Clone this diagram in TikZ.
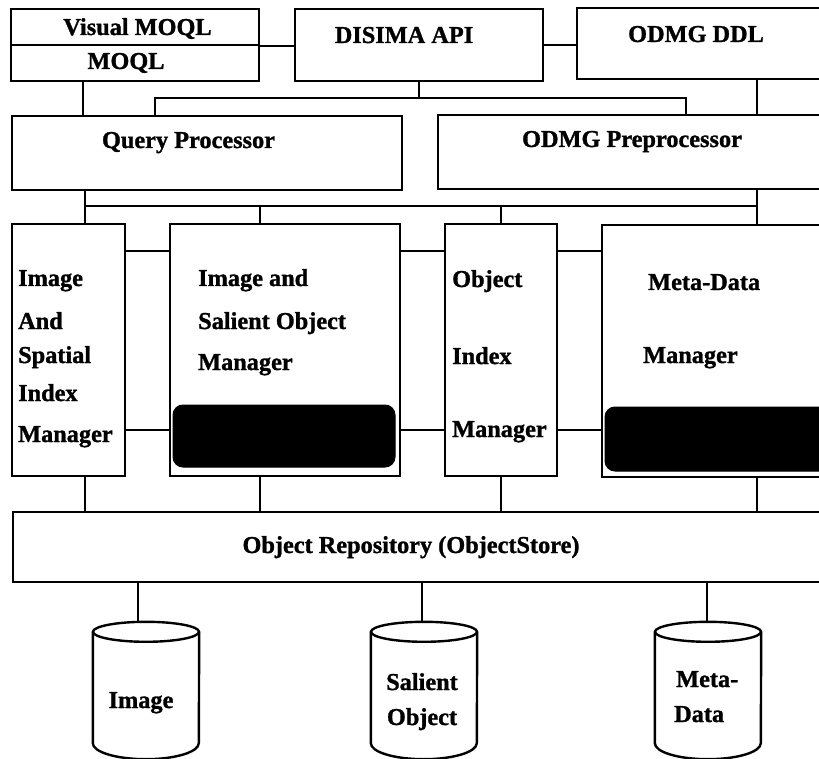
\documentclass[tikz,border=0pt]{standalone}
\usepackage{fontspec}
\setmainfont{Liberation Serif}[BoldFeatures={FakeBold=1.2}]
\usetikzlibrary{fit}
\begin{document}
\begin{tikzpicture}[x=1pt,y=-1pt,
  blk/.style={draw, line width=2.4pt, inner sep=0pt},
  darkpad/.style={fill=black, draw=black, line width=1pt, rounded corners=10pt, inner sep=0pt},
  cylspace/.style={inner sep=0pt},
  cyl/.style={line width=2.4pt},
  wire/.style={line width=2pt},
  lbl/.style={font=\fontsize{24.3}{29}\selectfont\bfseries, inner sep=0pt, anchor=base},
  lbll/.style={lbl, anchor=base west},
]
\useasboundingbox (0,0) rectangle (819,759);

% ---- top row: languages and interfaces
\node[blk, fit={(11,9) (259,45)}] (vmoql) {};
\node[blk, fit={(11,45) (259,81)}] (moql) {};
\node[blk, fit={(295,9) (543,81)}] (api) {};
\node[blk, fit={(577,8) (830,79)}] (ddl) {};

% ---- processors
\node[blk, fit={(12,116) (402,190)}] (qp) {};
\node[blk, fit={(438,115) (830,189)}] (pre) {};

% ---- managers
\node[blk, fit={(12,224) (125,476)}] (isim) {};
\node[blk, fit={(170,224) (400,476)}] (isom) {};
\node[blk, fit={(445,224) (557,476)}] (oim) {};
\node[blk, fit={(602,225) (830,477)}] (mdm) {};
\node[darkpad, fit={(173,405) (395,467)}] (isompad) {};
\node[darkpad, fit={(605,407) (845,471)}] (mdmpad) {};

% ---- repository and databases
\node[blk, fit={(13,512) (830,582)}] (repo) {};
\node[cylspace, fit={(93,622) (199,759)}] (cimg) {};
\node[cylspace, fit={(371,622) (477,759)}] (csal) {};
\node[cylspace, fit={(655,622) (761,759)}] (cmeta) {};
\foreach \c in {cimg,csal,cmeta}{
  \draw[cyl] ([yshift=-10pt]\c.north west) -- ([yshift=16pt]\c.south west)
    arc[start angle=180, end angle=360, x radius=53pt, y radius=16pt]
    -- ([yshift=-10pt]\c.north east);
  \draw[cyl] ([yshift=-10pt]\c.north) ellipse[x radius=53pt, y radius=10pt];
}

% ---- routing points
\coordinate (colA) at (83,0);
\coordinate (brL) at (155,98);
\coordinate (brR) at (686,98);
\coordinate (colD) at (757,0);
\coordinate (busL) at (85,206);
\coordinate (busR) at (757,206);
\coordinate (col2) at (260,0);
\coordinate (col3) at (501,0);
\coordinate (rowA) at (0,251);
\coordinate (rowB) at (0,430);
\coordinate (dbA) at (138,0);
\coordinate (dbB) at (422,0);
\coordinate (dbC) at (707,0);

% ---- connectors
\draw[wire] (vmoql.south east) -- (vmoql.south east -| api.west);
\draw[wire] (api.east) -- (api.east -| ddl.west);
\draw[wire] (moql.south -| colA) -- (qp.north -| colA);
\draw[wire] (api.south) -- (api.south |- brL);
\draw[wire] (qp.north -| brL) -- (brL) -- (brR) -- (pre.north -| brR);
\draw[wire] (ddl.south -| colD) -- (pre.north -| colD);
\draw[wire] (qp.south -| busL) -- (busL) -- (busR) -- (pre.south -| busR);
\draw[wire] (busL) -- (isim.north -| busL);
\draw[wire] (busL -| col2) -- (isom.north -| col2);
\draw[wire] (busL -| col3) -- (oim.north -| col3);
\draw[wire] (busR) -- (mdm.north -| busR);
\foreach \r in {rowA,rowB}{
  \draw[wire] (isim.east |- \r) -- (isom.west |- \r);
  \draw[wire] (isom.east |- \r) -- (oim.west |- \r);
  \draw[wire] (oim.east |- \r) -- (mdm.west |- \r);
}
\draw[wire] (isim.south -| busL) -- (repo.north -| busL);
\draw[wire] (isom.south -| col2) -- (repo.north -| col2);
\draw[wire] (oim.south -| col3) -- (repo.north -| col3);
\draw[wire] (mdm.south -| busR) -- (repo.north -| busR);
\draw[wire] (repo.south -| dbA) -- (cimg.north -| dbA);
\draw[wire] (repo.south -| dbB) -- (csal.north -| dbB);
\draw[wire] (repo.south -| dbC) -- (cmeta.north -| dbC);

% ---- labels
\node[lbl] (tvm) at (137.5,35) {Visual MOQL};
\node[lbl] (tmq) at (126,69) {MOQL};
\node[lbl] (tapi) at (404,43) {DISIMA API};
\node[lbl] (tddl) at (696,42) {ODMG DDL};
\node[lbl] (tqp) at (188.5,148) {Query Processor};
\node[lbl] (tpre) at (632,147) {ODMG Preprocessor};

\node[lbll] (ta1) at (18,286) {Image};
\node[lbll] (ta2) at (18,329) {And};
\node[lbll] (ta3) at (18,363) {Spatial};
\node[lbll] (ta4) at (18,401) {Index};
\node[lbll] (ta5) at (18,442) {Manager};

\node[lbll] (tb1) at (198,286) {Image and};
\node[lbll] (tb2) at (198,329) {Salient Object};
\node[lbll] (tb3) at (198,370) {Manager};

\node[lbll] (tc1) at (452,287) {Object};
\node[lbll] (tc2) at (452,364) {Index};
\node[lbll] (tc3) at (452,437) {Manager};

\node[lbll] (td1) at (648,290) {Meta-Data};
\node[lbll] (td2) at (643,363) {Manager};

\node[lbl] (trepo) at (411,553) {Object Repository (ObjectStore)};

\node[lbl] (te1) at (141,708) {Image};
\node[lbl] (tf1) at (422,690) {Salient};
\node[lbl] (tf2) at (422,725) {Object};
\node[lbll] (tg1) at (676,687) {Meta-};
\node[lbll] (tg2) at (674,722) {Data};
\end{tikzpicture}
\end{document}
